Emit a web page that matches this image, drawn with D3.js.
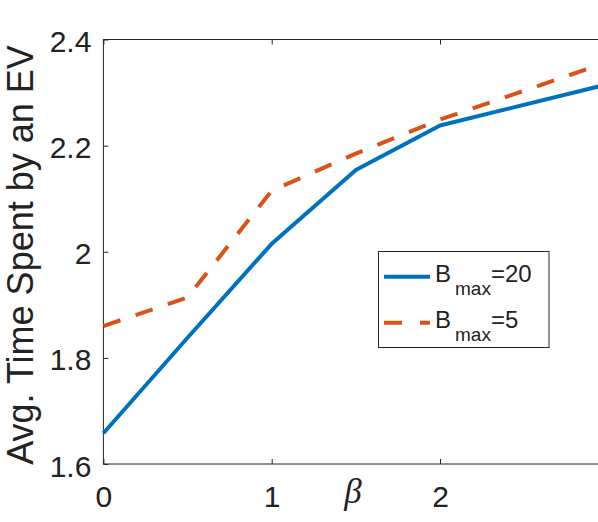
<!DOCTYPE html>
<html><head><meta charset="utf-8">
<script src="https://cdn.jsdelivr.net/npm/d3@7"></script>
<style>html,body{margin:0;padding:0;background:#fff;overflow:hidden}</style>
</head><body>
<script>
const betas = [0, 0.5, 1, 1.5, 2, 3];
const bmax20 = [1.658, 1.838, 2.015, 2.154, 2.238, 2.316];
const bmax5  = [1.860, 1.914, 2.115, 2.185, 2.249, 2.358];
const xTicks = [0, 1, 2, 3];
const yTicks = [1.6, 1.8, 2.0, 2.2, 2.4];
const yTickLabels = ["1.6", "1.8", "2", "2.2", "2.4"];
const seriesNames = ["20", "5"];

const W = 598, H = 522;
const L = 103.4, T = 39.5, B = 464, R = 608.3;
const axisColor = "#262626";

const svg = d3.select("body").append("svg").attr("width", W).attr("height", H)
  .style("font-family", "'Liberation Sans', Arial, sans-serif");

const x = d3.scaleLinear().domain([0, 3]).range([L, R]);
const y = d3.scaleLinear().domain([1.6, 2.4]).range([B, T]);

// box
svg.append("rect").attr("x", L).attr("y", T).attr("width", R - L).attr("height", B - T)
  .attr("fill", "none").attr("stroke", axisColor).attr("stroke-width", 1);

// axes (ticks inside)
const xAxisB = d3.axisBottom(x).tickValues(xTicks).tickSize(-5).tickFormat(d => d === 3 ? "" : d).tickPadding(20);
const gx = svg.append("g").attr("transform", `translate(0,${B})`).call(xAxisB);
gx.select(".domain").remove();
gx.selectAll(".tick line").attr("stroke", axisColor);
gx.selectAll(".tick text").attr("font-size", 30).attr("fill", "#222").attr("dy", "0.75em");

const xAxisT = d3.axisTop(x).tickValues(xTicks).tickSize(-5).tickFormat("");
const gxt = svg.append("g").attr("transform", `translate(0,${T})`).call(xAxisT);
gxt.select(".domain").remove();
gxt.selectAll(".tick line").attr("stroke", axisColor);

const yAxis = d3.axisLeft(y).tickValues(yTicks).tickSize(-5).tickPadding(12)
  .tickFormat((d, i) => yTickLabels[i]);
const gy = svg.append("g").attr("transform", `translate(${L},0)`).call(yAxis);
gy.select(".domain").remove();
gy.selectAll(".tick line").attr("stroke", axisColor);
gy.selectAll(".tick text").attr("font-size", 30).attr("fill", "#222").attr("dy", "0.4em");

// lines
const line = d3.line().x((d, i) => x(betas[i])).y(d => y(d));
svg.append("path").datum(bmax20).attr("d", line).attr("fill", "none")
  .attr("stroke", "#0072BD").attr("stroke-width", 4).attr("stroke-linejoin", "round");
svg.append("path").datum(bmax5).attr("d", line).attr("fill", "none")
  .attr("stroke", "#D95319").attr("stroke-width", 4).attr("stroke-dasharray", "18,16");

// labels
svg.append("text").attr("transform", `translate(33,255) rotate(-90)`)
  .attr("text-anchor", "middle").attr("font-size", 36).attr("fill", "#222")
  .text("Avg. Time Spent by an EV");
svg.append("text").attr("x", 353).attr("y", 503).attr("text-anchor", "middle")
  .attr("font-family", "'Liberation Serif', 'DejaVu Serif', serif").attr("font-style", "italic")
  .attr("font-size", 35).attr("fill", "#222").text("β");

// legend
const lg = svg.append("g");
lg.append("rect").attr("x", 378.5).attr("y", 251.5).attr("width", 170.5).attr("height", 96)
  .attr("fill", "#fff").attr("stroke", axisColor).attr("stroke-width", 1);
const legendItems = [
  {name: seriesNames[0], color: "#0072BD", dash: null, ly: 276.7, base: 281.7},
  {name: seriesNames[1], color: "#D95319", dash: "18,18", ly: 322.7, base: 327.5}
];
legendItems.forEach(it => {
  const l = lg.append("line").attr("x1", 384).attr("x2", 430).attr("y1", it.ly).attr("y2", it.ly)
    .attr("stroke", it.color).attr("stroke-width", 4);
  if (it.dash) l.attr("stroke-dasharray", it.dash);
  const t = lg.append("text").attr("x", 435).attr("y", it.base).attr("font-size", 24).attr("fill", "#222");
  t.append("tspan").text("B");
  t.append("tspan").attr("font-size", 19).attr("dx", 4).attr("dy", 13).text("max");
  t.append("tspan").attr("dy", -13).text("=" + it.name);
});
</script>
</body></html>
